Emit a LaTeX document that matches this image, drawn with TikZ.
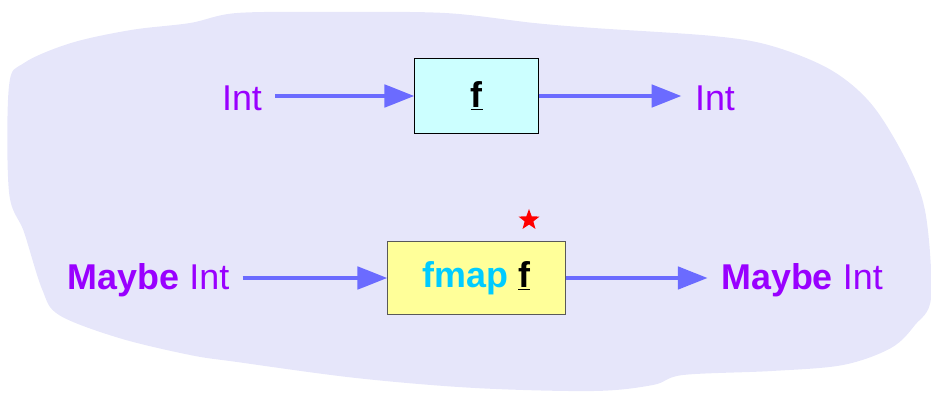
\documentclass[tikz,border=0pt]{standalone}
\usepackage{fontspec}
\setmainfont{Liberation Sans}
\usetikzlibrary{arrows.meta,shapes.geometric}
\definecolor{blobfill}{HTML}{E6E6FA}
\definecolor{typecol}{HTML}{9900FF}
\definecolor{fmapcol}{HTML}{00CCFF}
\definecolor{arrowcol}{HTML}{6B6BFF}
\definecolor{boxcyan}{HTML}{CCFFFF}
\definecolor{boxyellow}{HTML}{FFFF99}

\begin{document}
\begin{tikzpicture}[x=0.025cm, y=-0.025cm,
		type_style/.style={text=typecol,inner xsep=0.33cm,inner ysep=0pt,font=\fontsize{25.5}{30}\selectfont},
		box_style/.style={rectangle,draw=black,line width=0.7pt,inner sep=0pt,font=\fontsize{25.5}{30}\selectfont},
		edge_style/.style={draw=arrowcol,line width=3.5pt,-{Triangle[length=0.75cm,width=0.55cm]}}]

		\useasboundingbox (0,0) rectangle (931,393);

		% background blob
		\fill[blobfill] plot[smooth cycle, tension=0.55] coordinates {
			(237,13) (333,12) (445,13) (534,23) (594,28) (713,36) (772,46)
			(831,70) (873,106) (909,166) (926,216) (931,298) (915,325)
			(891,348) (843,365) (772,371) (683,375) (653,385) (594,391)
			(475,388) (356,378) (237,362) (190,355) (119,338) (59,315)
			(42,289) (24,232) (9,192) (9,86) (24,63) (71,43) (131,30) (190,23)};

		\node[type_style] (n0) at (242,98)  {Int};
		\node[box_style,fill=boxcyan,minimum width=3.075cm,minimum height=1.85cm] (n1) at (476.5,96)  {\underline{\textbf{f}}};
		\node[type_style] (n2) at (715,98)  {Int};

		\node[type_style] (n3) at (148.5,280)  {\textbf{Maybe} Int};
		\node[box_style,draw=black!65,fill=boxyellow,minimum width=4.425cm,minimum height=1.825cm] (n4) at (476.5,278)  {\textbf{\textcolor{fmapcol}{fmap}} \underline{\textbf{f}}};
		\node[type_style] (n5) at (802,280)  {\textbf{Maybe} Int};

		\node[star,star points=5,star point ratio=2.4,fill=red,inner sep=0pt,minimum size=0.55cm] (n6) at (529,220)  {};

		\draw[edge_style]  (n0.east |- n1.west) -- (n1.west);
		\draw[edge_style]  (n1.east) -- (n1.east -| n2.west);
		\draw[edge_style]  (n3.east |- n4.west) -- (n4.west);
		\draw[edge_style]  (n4.east) -- (n4.east -| n5.west);
\end{tikzpicture}
\end{document}
